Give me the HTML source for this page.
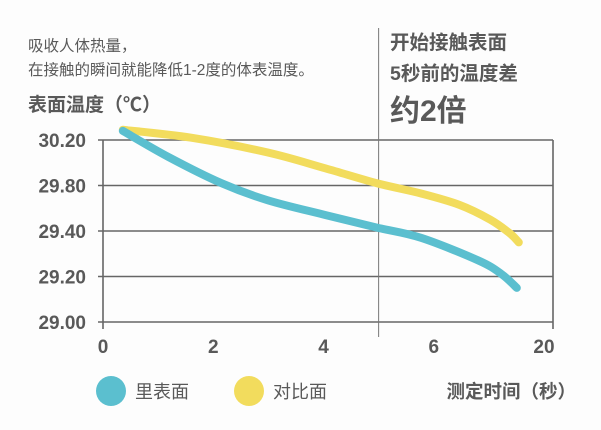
<!DOCTYPE html>
<html><head><meta charset="utf-8"><style>
body{margin:0;background:#fdfdfd;}
svg text{font-family:"Liberation Sans","Noto Sans CJK SC",sans-serif;fill:#595959;}
</style></head><body>
<svg width="601" height="425" viewBox="0 0 601 425" id="c">
<text x="28" y="51" font-size="15.5">吸收人体热量，</text>
<text x="28" y="75" font-size="15.5">在接触的瞬间就能降低1-2度的体表温度。</text>
<text x="28" y="111" font-size="19" font-weight="bold">表面温度（℃）</text>
<text x="390" y="49" font-size="19.5" font-weight="bold">开始接触表面</text>
<text x="390" y="80" font-size="19.5" font-weight="bold">5秒前的温度差</text>
<text x="390" y="121" font-size="30" font-weight="bold">约2倍</text>
<g id="grid"></g><g id="series"></g>
<circle cx="111" cy="391" r="15" fill="#5bbfcf"/>
<text x="135" y="398" font-size="18">里表面</text>
<circle cx="249" cy="391" r="15" fill="#f2dc5d"/>
<text x="273" y="398" font-size="18">对比面</text>
<text x="576" y="398" font-size="18.5" font-weight="bold" text-anchor="end">测定时间（秒）</text>
</svg>
<script>
const yTicks=[30.2,29.8,29.4,29.2,29.0];
const xTicks=[0,2,4,6,20];
const innerX=[0.36,1.19,2.15,2.99,4.04,4.97,5.77,11.69,14.63,16.55];
const innerY=[30.28,30.05,29.82,29.67,29.54,29.43,29.37,29.27,29.21,29.15];
const compX=[0.36,1.6,2.99,4.04,4.97,5.77,9.26,13.17,15.65,16.8];
const compY=[30.29,30.22,30.09,29.95,29.82,29.73,29.63,29.50,29.39,29.35];
const markerX=5;
const X0=103,XS=110.25,Y0=140,YS=45.5,XR=553;
function pw(v,ticks,p0,s){
  let n=ticks.length;
  for(let i=0;i<n-1;i++){const a=ticks[i],b=ticks[i+1];
    if((v-a)*(v-b)<=0||(i===0&&(v-a)*(b-a)<0)||i===n-2){return p0+s*(i+(v-a)/(b-a));}}
}
const xs=v=>pw(v,xTicks,X0,XS), ys=v=>pw(v,yTicks,Y0,YS);
const NS="http://www.w3.org/2000/svg";
const g=document.getElementById('grid');
function mk(t,a,par){const e=document.createElementNS(NS,t);for(const k in a)e.setAttribute(k,a[k]);par.appendChild(e);return e;}
yTicks.forEach((t,i)=>{const y=ys(t);
  const l=mk('line',{x1:X0-5,x2:XR,y1:y,y2:y,stroke:'#666','stroke-width':1.6},g);
  
  
  const tx=mk('text',{x:86,y:y+7,'font-size':19,'font-weight':'bold','text-anchor':'end'},g);tx.textContent=t.toFixed(2);
  
  
});
const b=ys(yTicks[yTicks.length-1]);
[X0,XR].forEach(x=>{const l=mk('line',{x1:x,x2:x,y1:ys(yTicks[0]),y2:b+7,stroke:'#666','stroke-width':1.6},g);
  
  });
const vm=mk('line',{x1:xs(markerX),x2:xs(markerX),y1:28,y2:337,stroke:'#777','stroke-width':1},g);


xTicks.forEach((t,i)=>{const tx=mk('text',{x:t===20?544:xs(t),y:353,'font-size':19,'font-weight':'bold','text-anchor':'middle'},g);tx.textContent=t;
  
  });
function path(X,Y){const p=X.map((x,i)=>[xs(x),ys(Y[i])]);let d='M'+p[0];
  for(let i=0;i<p.length-1;i++){const p0=p[i-1]||p[i],p1=p[i],p2=p[i+1],p3=p[i+2]||p2;
    d+=' C'+(p1[0]+(p2[0]-p0[0])/6)+','+(p1[1]+(p2[1]-p0[1])/6)+' '+(p2[0]-(p3[0]-p1[0])/6)+','+(p2[1]-(p3[1]-p1[1])/6)+' '+p2;}
  return d;}
const s=document.getElementById('series');
const pc=mk('path',{d:path(compX,compY),fill:'none',stroke:'#f2dc5d','stroke-width':8,'stroke-linecap':'round'},s);


const pi=mk('path',{d:path(innerX,innerY),fill:'none',stroke:'#5bbfcf','stroke-width':8,'stroke-linecap':'round'},s);


</script>
</body></html>
